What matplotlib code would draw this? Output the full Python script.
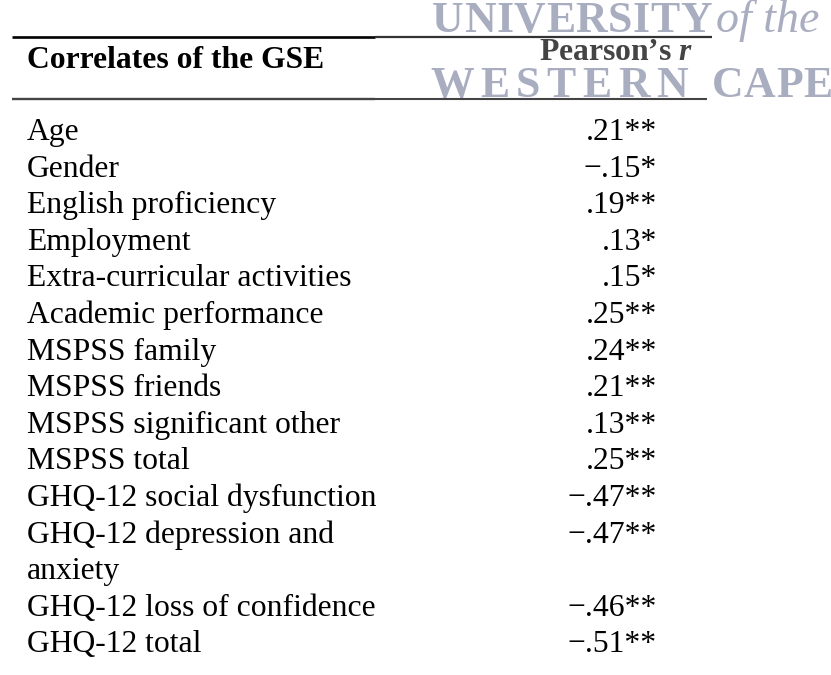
import matplotlib
matplotlib.use("Agg")
from matplotlib import pyplot as plt

#
# Table data
#
header_left = "Correlates of the GSE"
header_right = "Pearson\u2019s $\\mathbfit{r}$"
labels = [
    "Age",
    "Gender",
    "English proficiency",
    "Employment",
    "Extra-curricular activities",
    "Academic performance",
    "MSPSS family",
    "MSPSS friends",
    "MSPSS significant other",
    "MSPSS total",
    "GHQ-12 social dysfunction",
    "GHQ-12 depression and\nanxiety",
    "GHQ-12 loss of confidence",
    "GHQ-12 total",
]
values = [".21", "\u2212.15", ".19", ".13", ".15", ".25", ".24", ".21",
          ".13", ".25", "\u2212.47", "\u2212.47", "\u2212.46", "\u2212.51"]
stars = ["**", "*", "**", "*", "*", "**", "**", "**",
         "**", "**", "**", "**", "**", "**"]

plt.rcParams['font.family'] = ['Liberation Serif', 'DejaVu Serif']
plt.rcParams['mathtext.fontset'] = 'custom'
plt.rcParams['mathtext.bfit'] = 'Liberation Serif:bold:italic'

fig = plt.figure(figsize=(8.31, 6.75), dpi=100)
ax = fig.add_axes([0, 0, 1, 1])
ax.set_xlim(0, 831)
ax.set_ylim(675, 0)
ax.axis('off')
renderer = fig.canvas.get_renderer()


def tracked(x, y, s, gap, **kw):
    # letter-spaced text, one glyph at a time
    for ch in s:
        t = ax.text(x, y, ch, **kw)
        x += t.get_window_extent(renderer).width + gap
    return x


fs = 22.8
x_left = 27
x_right = 657
row_h = 36.6
first_base = 140

# watermark (behind everything)
wm_col = '#a9adc0'
wm = dict(color=wm_col, fontsize=31.5, fontweight='bold', va='baseline', zorder=1)
tracked(432, 32, "UNIVERSITY", 0.5, **wm)
ax.text(716, 32, "of the", color=wm_col, fontsize=33, style='italic',
        va='baseline', zorder=1)
tracked(430, 97, "WESTERN", 6.5, **wm)
tracked(712, 97, "CAPE", 0.5, **wm)

# rules
ax.plot([12, 375], [37, 37], color='black', lw=1.9, solid_capstyle='butt', zorder=3)
ax.plot([375, 712], [37, 37], color='#333333', lw=1.6, solid_capstyle='butt', zorder=3)
ax.plot([12, 375], [99, 99], color='#444444', lw=1.7, solid_capstyle='butt', zorder=3)
ax.plot([375, 707], [99, 99], color='#444444', lw=1.5, solid_capstyle='butt', zorder=3)

# header
ax.text(x_left, 68, header_left, fontsize=fs, fontweight='bold',
        va='baseline', zorder=3)
ax.text(616, 60, header_right, fontsize=fs, fontweight='bold',
        color='#444444', ha='center', va='baseline', zorder=3)

# body
line = 0
for lab, val, st in zip(labels, values, stars):
    yb = first_base + line * row_h
    ax.text(x_right, yb, val + st, fontsize=fs, ha='right', va='baseline', zorder=3)
    for part in lab.split("\n"):
        ax.text(x_left, first_base + line * row_h, part, fontsize=fs,
                va='baseline', zorder=3)
        line += 1

fig.savefig("out.png", dpi=100)
